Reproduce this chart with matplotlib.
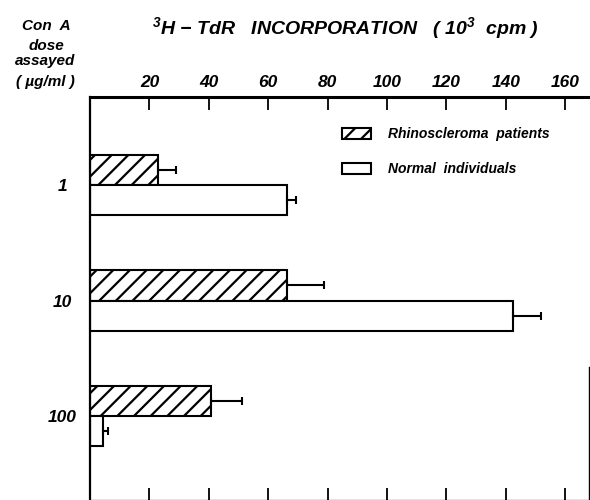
import numpy as np
import matplotlib
matplotlib.use('Agg')
import matplotlib.pyplot as plt

plt.rcParams['font.family'] = 'Liberation Sans'
plt.rcParams['font.weight'] = 'bold'
plt.rcParams['font.style'] = 'italic'
plt.rcParams['mathtext.fontset'] = 'custom'
plt.rcParams['mathtext.rm'] = 'Liberation Sans:bold:italic'
plt.rcParams['mathtext.it'] = 'Liberation Sans:bold:italic'
plt.rcParams['mathtext.default'] = 'rm'
plt.rcParams['hatch.linewidth'] = 1.6

# Con A doses and 3H-TdR incorporation (10^3 cpm)
doses = ['1', '10', '100']
patients = [22.8, 66.4, 40.6]
patients_err = [6.0, 12.4, 10.7]
normal = [66.4, 142.3, 4.4]
normal_err = [3.0, 9.7, 1.7]
xticks = [20, 40, 60, 80, 100, 120, 140, 160]

W, H = 590, 500
fig = plt.figure(figsize=(5.9, 5.0), dpi=100)
# axes box in pixels: left 90, right 589, top 97, bottom ~501
ax = fig.add_axes([90 / W, -1 / H, 499 / W, 404 / H])

y = np.arange(len(doses))
h = 0.26

ax.barh(y - h / 2, patients, height=h, color='white', edgecolor='black',
        linewidth=1.5, hatch='//', label='Rhinoscleroma  patients')
ax.barh(y + h / 2, normal, height=h, color='white', edgecolor='black',
        linewidth=1.5, label='Normal  individuals')

# one-sided error bars (to the right only)
ax.errorbar(patients, y - h / 2, xerr=[np.zeros(3), patients_err], fmt='none',
            ecolor='black', elinewidth=1.5, capsize=3, capthick=1.5)
ax.errorbar(normal, y + h / 2, xerr=[np.zeros(3), normal_err], fmt='none',
            ecolor='black', elinewidth=1.5, capsize=3, capthick=1.5)

ax.set_xlim(0, 168)
ax.set_ylim(2.736, -0.762)

ax.set_xticks(xticks)
ax.xaxis.set_ticks_position('both')
ax.tick_params(axis='x', direction='in', length=9.5, width=1.3,
               labeltop=True, labelbottom=False, labelsize=12.5, pad=5)

ax.set_yticks(y)
ax.set_yticklabels(doses, ha='center')
ax.tick_params(axis='y', length=0, labelsize=12.5, pad=20)

ax.spines['top'].set_linewidth(2.2)
ax.spines['left'].set_linewidth(1.6)
ax.spines['bottom'].set_linewidth(1.6)
ax.spines['right'].set_linewidth(1.0)
ax.spines['right'].set_bounds(1.576, 2.736)

ax.legend(loc='upper left', bbox_to_anchor=(0.505, 0.925), frameon=False,
          borderpad=0, borderaxespad=0, handlelength=2.1, handleheight=0.8,
          handletextpad=1.2, labelspacing=1.5, fontsize=10)

fig.text(345 / W, 1 - 28 / H,
         r'$^3$H $-$ TdR   INCORPORATION   ( 10$^3$  cpm )',
         ha='center', va='center', fontsize=14)

fig.text(46 / W, 1 - 26 / H, 'Con  A', ha='center', va='center', fontsize=11)
fig.text(46 / W, 1 - 46 / H, 'dose', ha='center', va='center', fontsize=11)
fig.text(45 / W, 1 - 61 / H, 'assayed', ha='center', va='center', fontsize=11)
fig.text(45.5 / W, 1 - 82 / H, '( µg/ml )', ha='center', va='center', fontsize=11)

fig.savefig('out.png', dpi=100)
